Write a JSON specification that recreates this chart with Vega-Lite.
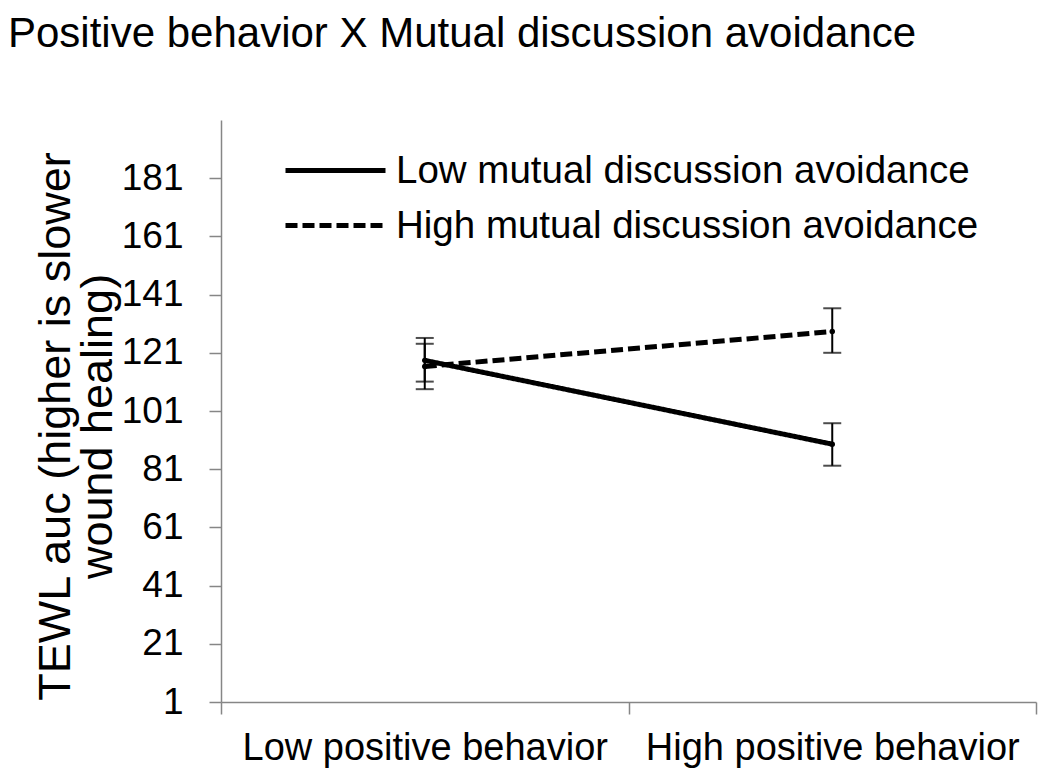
{
  "$schema": "https://vega.github.io/schema/vega-lite/v6.json",
  "autosize": "none",
  "width": 815,
  "height": 582,
  "padding": {"left": 221, "top": 120, "right": 14, "bottom": 71},
  "background": "white",
  "config": {
    "font": "Liberation Sans",
    "view": {"stroke": null},
    "axis": {"domainColor": "#868686", "tickColor": "#868686", "domainWidth": 1.5, "tickWidth": 1.5, "labelColor": "black", "titleColor": "black", "grid": false}
  },
  "title": {
    "text": "Positive behavior X Mutual discussion avoidance",
    "anchor": "start",
    "frame": "group",
    "dx": -213,
    "offset": 31,
    "baseline": "alphabetic",
    "fontSize": 42,
    "fontWeight": "normal",
    "color": "black"
  },
  "data": {
    "values": [
      {"pb": "Low positive behavior", "mda": "Low mutual discussion avoidance", "mean": 118.4, "lo": 111.1, "hi": 126.1},
      {"pb": "High positive behavior", "mda": "Low mutual discussion avoidance", "mean": 89.6, "lo": 82.2, "hi": 96.8},
      {"pb": "Low positive behavior", "mda": "High mutual discussion avoidance", "mean": 116.3, "lo": 108.5, "hi": 124.1},
      {"pb": "High positive behavior", "mda": "High mutual discussion avoidance", "mean": 128.3, "lo": 121.0, "hi": 136.3}
    ]
  },
  "encoding": {
    "x": {
      "field": "pb",
      "type": "nominal",
      "sort": ["Low positive behavior", "High positive behavior"],
      "scale": {"type": "band", "paddingInner": 0, "paddingOuter": 0},
      "axis": {"title": null, "labelAngle": 0, "tickBand": "extent", "tickSize": 12, "labelFontSize": 38, "labelPadding": 15, "labelLimit": 600}
    }
  },
  "layer": [
    {
      "mark": {"type": "rule", "color": "black", "strokeWidth": 2},
      "encoding": {
        "y": {"field": "lo", "type": "quantitative"},
        "y2": {"field": "hi"}
      }
    },
    {
      "mark": {"type": "tick", "color": "black", "thickness": 2, "size": 18, "orient": "horizontal"},
      "encoding": {"y": {"field": "lo", "type": "quantitative"}}
    },
    {
      "mark": {"type": "tick", "color": "black", "thickness": 2, "size": 18, "orient": "horizontal"},
      "encoding": {"y": {"field": "hi", "type": "quantitative"}}
    },
    {
      "mark": {"type": "line", "color": "black", "strokeWidth": 5, "point": {"filled": true, "size": 30, "color": "black"}},
      "encoding": {
        "y": {
          "field": "mean",
          "type": "quantitative",
          "scale": {"domain": [1, 201], "nice": false, "zero": false},
          "axis": {
            "values": [1, 21, 41, 61, 81, 101, 121, 141, 161, 181],
            "tickSize": 12,
            "labelPadding": 26,
            "labelFontSize": 37,
            "title": ["TEWL auc (higher is slower", "wound healing)"],
            "titleFontSize": 45,
            "titleFontWeight": "normal",
            "titleLineHeight": 42,
            "titleBaseline": "middle",
            "titleX": -166,
            "titleY": 306
          }
        },
        "strokeDash": {
          "field": "mda",
          "type": "nominal",
          "scale": {
            "domain": ["Low mutual discussion avoidance", "High mutual discussion avoidance"],
            "range": [[1, 0], [12, 5]]
          },
          "legend": {
            "title": null,
            "orient": "none",
            "legendX": 92,
            "legendY": 28,
            "symbolType": "M-2.5,0H2.5",
            "symbolSize": 1600,
            "symbolStrokeWidth": 5,
            "symbolStrokeColor": "black",
            "labelFontSize": 38.5,
            "labelColor": "black",
            "labelOffset": 38,
            "rowPadding": 13,
            "padding": 0,
            "labelLimit": 800,
            "encode": {
              "symbols": {
                "update": {
                  "stroke": {"value": "black"},
                  "strokeWidth": {"value": 5},
                  "shape": {"value": "M-2.5,0H2.5"},
                  "size": {"value": 1600},
                  "opacity": {"value": 1}
                }
              }
            }
          }
        }
      }
    }
  ]
}
